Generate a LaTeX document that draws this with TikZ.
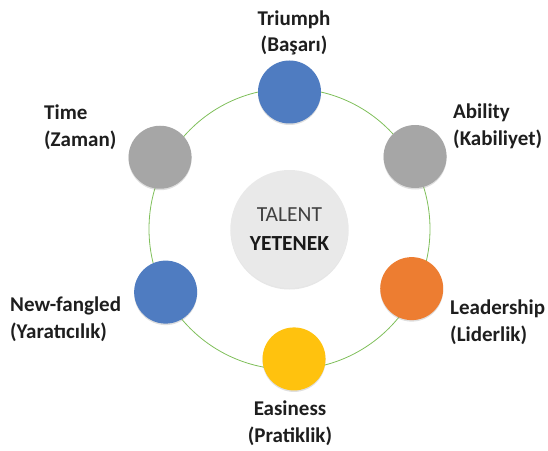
\documentclass[tikz,border=0pt]{standalone}
\usepackage{fontspec}
\setmainfont{Carlito}
\usetikzlibrary{shadows}

\definecolor{ringgreen}{HTML}{7FBF5A}
\definecolor{dotblue}{HTML}{4F7CC1}
\definecolor{dotgray}{HTML}{A6A6A6}
\definecolor{dotorange}{HTML}{ED7D31}
\definecolor{dotyellow}{HTML}{FFC20E}
\definecolor{coregray}{HTML}{E9E9E9}
\definecolor{labelink}{HTML}{1E1E1E}

\tikzset{
  dot/.style={circle, minimum size=63, inner sep=0,
    drop shadow={shadow xshift=0pt, shadow yshift=-1.5pt, opacity=0.25}},
  core/.style={circle, minimum size=118, inner sep=0, fill=coregray, align=center,
    font=\fontsize{21.5}{29}\selectfont, text=black!75,
    drop shadow={shadow xshift=0pt, shadow yshift=-1.5pt, opacity=0.2}},
  tag/.style={inner sep=0, font=\bfseries\fontsize{21}{26.5}\selectfont, text=labelink}
}

\begin{document}
\begin{tikzpicture}[x=1pt, y=1pt]
      \useasboundingbox (-289.5,-221) rectangle (258.5,229);

      \draw[ringgreen, line width=0.8pt] (0,0) circle [radius=140.5];

      \node[core] (talent) at (0,0) {TALENT\\\textbf{\color{black!90}YETENEK}};

      \node[dot, fill=dotblue]   (triumph)    at (90:137)   {};
      \node[dot, fill=dotgray]   (ability)    at (30:145)   {};
      \node[dot, fill=dotorange] (leadership) at (-26:136)  {};
      \node[dot, fill=dotyellow] (easiness)   at (-88:130)  {};
      \node[dot, fill=dotblue]   (newfangled) at (-153:139) {};
      \node[dot, fill=dotgray]   (time)       at (151:148)  {};

	% base = baseline of the second line
	\node[tag, anchor=base, align=center] (triumphtext) at (4.5,177) {Triumph\\(Başarı)};
	\node[tag, anchor=base west, align=left] (abilitytext) at (163.5,84) {Ability\\(Kabiliyet)};
	\node[tag, anchor=base west, align=left] (leadershiptext) at (160.5,-112) {Leadership\\(Liderlik)};
	\node[tag, anchor=base, align=center] (easinesstext) at (0.5,-213) {Easiness\\(Pratiklik)};
	\node[tag, anchor=base west, align=left] (newfangledtext) at (-279.5,-109) {New-fangled\\(Yaratıcılık)};
	\node[tag, anchor=base west, align=left] (timetext) at (-245.5,83) {Time\\(Zaman)};
\end{tikzpicture}
\end{document}
